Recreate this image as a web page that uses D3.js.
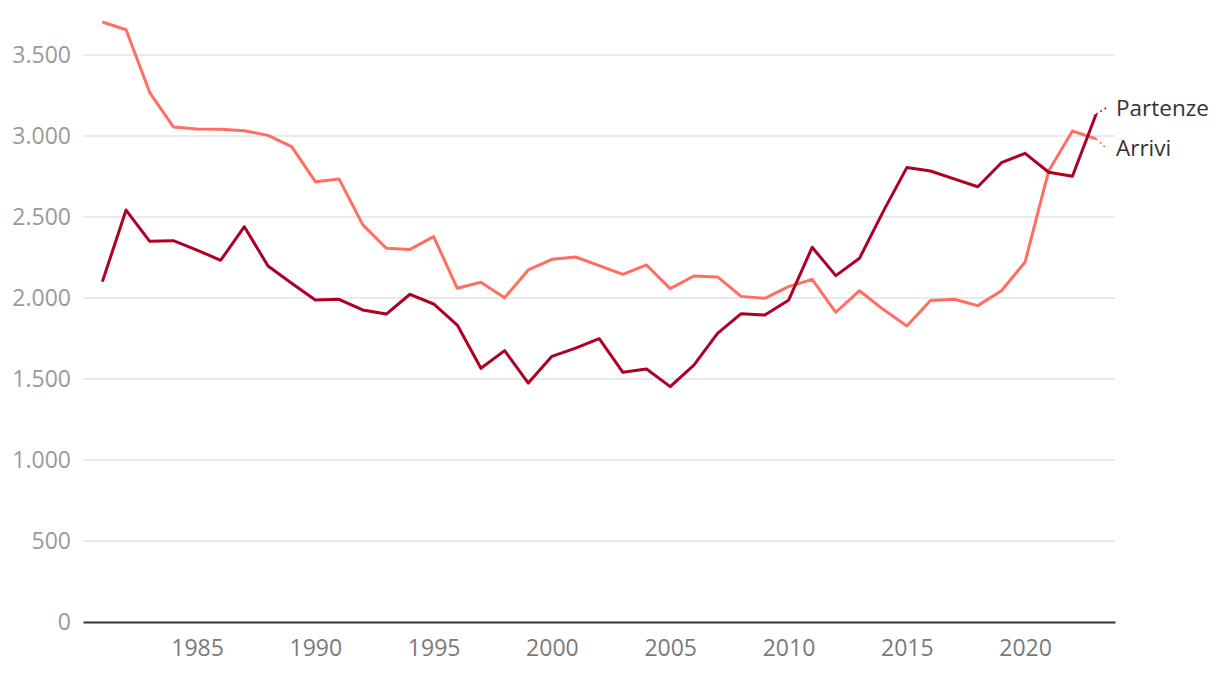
<!DOCTYPE html>
<html><head><meta charset="utf-8">
<script src="https://cdn.jsdelivr.net/npm/d3@7"></script>
<style>body{margin:0;background:#fff;}svg{display:block;font-family:"Open Sans","Noto Sans",sans-serif;}</style>
</head><body>
<svg id="c" width="1220" height="674"></svg>
<script>
const years = d3.range(1981, 2024);
const arrivi = [3704,3656,3268,3056,3043,3041,3033,3004,2934,2718,2735,2453,2307,2300,2379,2060,2097,2002,2173,2239,2253,2200,2146,2204,2058,2136,2130,2010,1998,2070,2115,1912,2045,1930,1827,1984,1992,1953,2045,2222,2786,3031,2982];
const partenze = [2101,2543,2350,2354,2296,2233,2440,2198,2091,1988,1992,1926,1901,2023,1963,1833,1566,1675,1475,1640,1691,1749,1541,1562,1453,1586,1782,1903,1895,1986,2313,2138,2245,2533,2805,2784,2735,2687,2835,2893,2776,2751,3134];
const yTicks = [0,500,1000,1500,2000,2500,3000,3500];
const xTicks = [1985,1990,1995,2000,2005,2010,2015,2020];
const seriesNames = ["Partenze","Arrivi"];
const colors = {Partenze:"#ae0024", Arrivi:"#ff6f61"};

const svg = d3.select("#c");
const x = d3.scaleLinear().domain([1980.18, 2023.8]).range([83, 1115]);
const y = d3.scaleLinear().domain([0, 3500]).range([622, 55]);
const fmt = v => d3.format(",")(v).replace(/,/g, ".");

// grid
svg.append("g").selectAll("line").data(yTicks.filter(d=>d>0)).join("line")
  .attr("x1", 83).attr("x2", 1115).attr("y1", d=>y(d)).attr("y2", d=>y(d))
  .attr("stroke", "#e3e3e3").attr("stroke-width", 1.5);

// y labels
const ya = svg.append("g").attr("transform","translate(83,0)")
  .call(d3.axisLeft(y).tickValues(yTicks).tickFormat(fmt).tickSize(0).tickPadding(12));
ya.select(".domain").remove();
ya.selectAll("text").attr("fill","#9a9a9a").style("font-size","23px").style("font-family","'Open Sans','Noto Sans',sans-serif");

// x axis
const xa = svg.append("g").attr("transform","translate(0,622)")
  .call(d3.axisBottom(x).tickValues(xTicks).tickFormat(d3.format("d")).tickSize(0).tickPadding(18));
xa.select(".domain").attr("stroke","#333").attr("stroke-width",2);
xa.selectAll("text").attr("fill","#7a7a7a").style("font-size","23px").style("font-family","'Open Sans','Noto Sans',sans-serif");

const line = d3.line().x((d,i)=>x(years[i])).y(d=>y(d));
const data = {Partenze: partenze, Arrivi: arrivi};
["Arrivi","Partenze"].forEach(name => {
  svg.append("path").datum(data[name]).attr("d", line)
    .attr("fill","none").attr("stroke", colors[name]).attr("stroke-width",3)
    .attr("stroke-linejoin","round");
});

// labels with dashed connectors
const labelY = {Partenze: 108, Arrivi: 148};
seriesNames.forEach(name => {
  const last = data[name][data[name].length-1];
  const x0 = x(2023), y0 = y(last);
  svg.append("line").attr("x1", x0).attr("y1", y0).attr("x2", x0+10).attr("y2", labelY[name])
    .attr("stroke", colors[name]).attr("stroke-width", 1.5).attr("stroke-dasharray","2,3");
  svg.append("text").attr("x", 1116).attr("y", labelY[name]).attr("dy","0.35em")
    .attr("fill","#333").style("font-size","22.5px").text(name);
});
</script>
</body></html>
